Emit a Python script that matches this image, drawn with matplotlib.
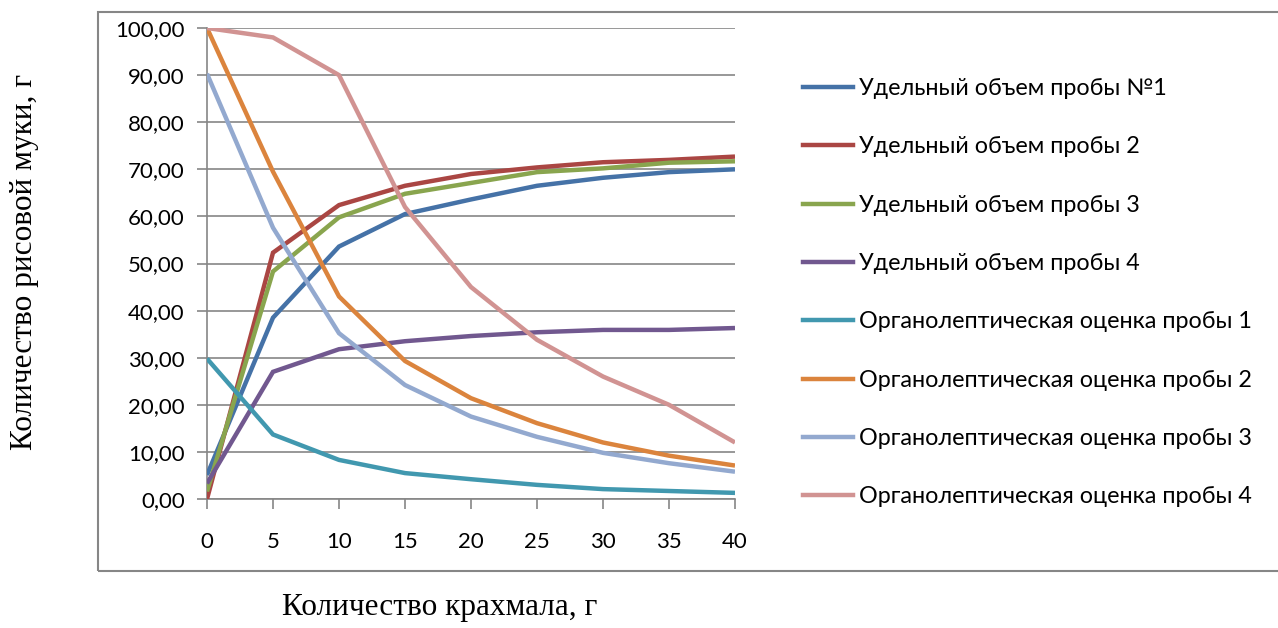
import matplotlib
matplotlib.use("Agg")
import matplotlib.pyplot as plt
from matplotlib.patches import Rectangle
from matplotlib.lines import Line2D

starch = [0, 5, 10, 15, 20, 25, 30, 35, 40]

volume_1 = [5.1, 38.5, 53.6, 60.5, 63.6, 66.5, 68.2, 69.4, 70.0]
volume_2 = [0.0, 52.3, 62.4, 66.5, 69.0, 70.4, 71.5, 72.0, 72.7]
volume_3 = [1.6, 48.3, 59.8, 64.8, 67.1, 69.4, 70.2, 71.4, 71.7]
volume_4 = [3.3, 27.0, 31.8, 33.5, 34.6, 35.4, 35.9, 35.9, 36.3]
organo_1 = [29.8, 13.7, 8.3, 5.5, 4.2, 3.0, 2.1, 1.7, 1.3]
organo_2 = [100.0, 69.5, 43.0, 29.3, 21.4, 16.1, 12.0, 9.2, 7.1]
organo_3 = [90.3, 57.6, 35.2, 24.2, 17.5, 13.2, 9.8, 7.6, 5.8]
organo_4 = [100.0, 98.0, 90.0, 62.0, 45.0, 33.8, 26.0, 20.0, 12.0]

series = [
    ("Удельный объем пробы №1", volume_1, "#4572a7"),
    ("Удельный объем пробы 2", volume_2, "#aa4643"),
    ("Удельный объем пробы 3", volume_3, "#89a54e"),
    ("Удельный объем пробы 4", volume_4, "#71588f"),
    ("Органолептическая оценка пробы 1", organo_1, "#4198af"),
    ("Органолептическая оценка пробы 2", organo_2, "#db843d"),
    ("Органолептическая оценка пробы 3", organo_3, "#93a9cf"),
    ("Органолептическая оценка пробы 4", organo_4, "#d19392"),
]

y_ticks = [0, 10, 20, 30, 40, 50, 60, 70, 80, 90, 100]
y_labels = [("%.2f" % v).replace(".", ",") for v in y_ticks]

W, H = 1278, 628
fig = plt.figure(figsize=(W / 100, H / 100), dpi=100)
ax = fig.add_axes([207 / W, 1 - 499 / H, (735 - 207) / W, (499 - 28) / H])

grid_col = "#868686"
tick_font = {"family": ["Lato", "DejaVu Sans"], "size": 16}

for label, vals, col in series:
    ax.plot(starch, vals, color=col, lw=3.2, label=label,
            solid_joinstyle="miter", solid_capstyle="butt", zorder=3)

ax.set_xlim(0, 40)
ax.set_ylim(0, 100)
ax.set_xticks(starch)
ax.set_xticklabels([str(v) for v in starch], fontdict=tick_font)
ax.set_yticks(y_ticks)
ax.set_yticklabels(y_labels, fontdict=tick_font)
ax.yaxis.grid(True, color=grid_col, lw=1.2, zorder=0)
ax.tick_params(axis="both", direction="out", length=7, width=1.2,
               color=grid_col)
ax.tick_params(axis="y", pad=9)
ax.tick_params(axis="x", pad=17)
for side in ("top", "right"):
    ax.spines[side].set_visible(False)
for side in ("left", "bottom"):
    ax.spines[side].set_color(grid_col)
    ax.spines[side].set_linewidth(1.2)

# chart-area frame
fig.patches.append(Rectangle((98 / W, 1 - 571 / H), 1.2, (571 - 12) / H,
                             transform=fig.transFigure, fill=False,
                             edgecolor=grid_col, lw=1.5, zorder=0))

handles = [Line2D([], [], color=c, lw=3.2) for _, _, c in series]
labels = [s[0] for s in series]
fig.legend(handles, labels, loc="upper left",
           bbox_to_anchor=(782 / W, 1 - 57 / H),
           frameon=False, handlelength=2.15, handletextpad=0.25,
           labelspacing=1.6,
           prop={"family": ["Lato", "DejaVu Sans"], "size": 16.8})

serif = ["Liberation Serif", "DejaVu Serif"]
fig.text(25 / W, 1 - 262 / H, "Количество рисовой муки, г", rotation=90,
         ha="center", va="center", family=serif, fontsize=22.5)
fig.text(440 / W, 1 - 608 / H, "Количество крахмала, г",
         ha="center", va="center", family=serif, fontsize=22.5)

fig.savefig("out.png", dpi=100)
